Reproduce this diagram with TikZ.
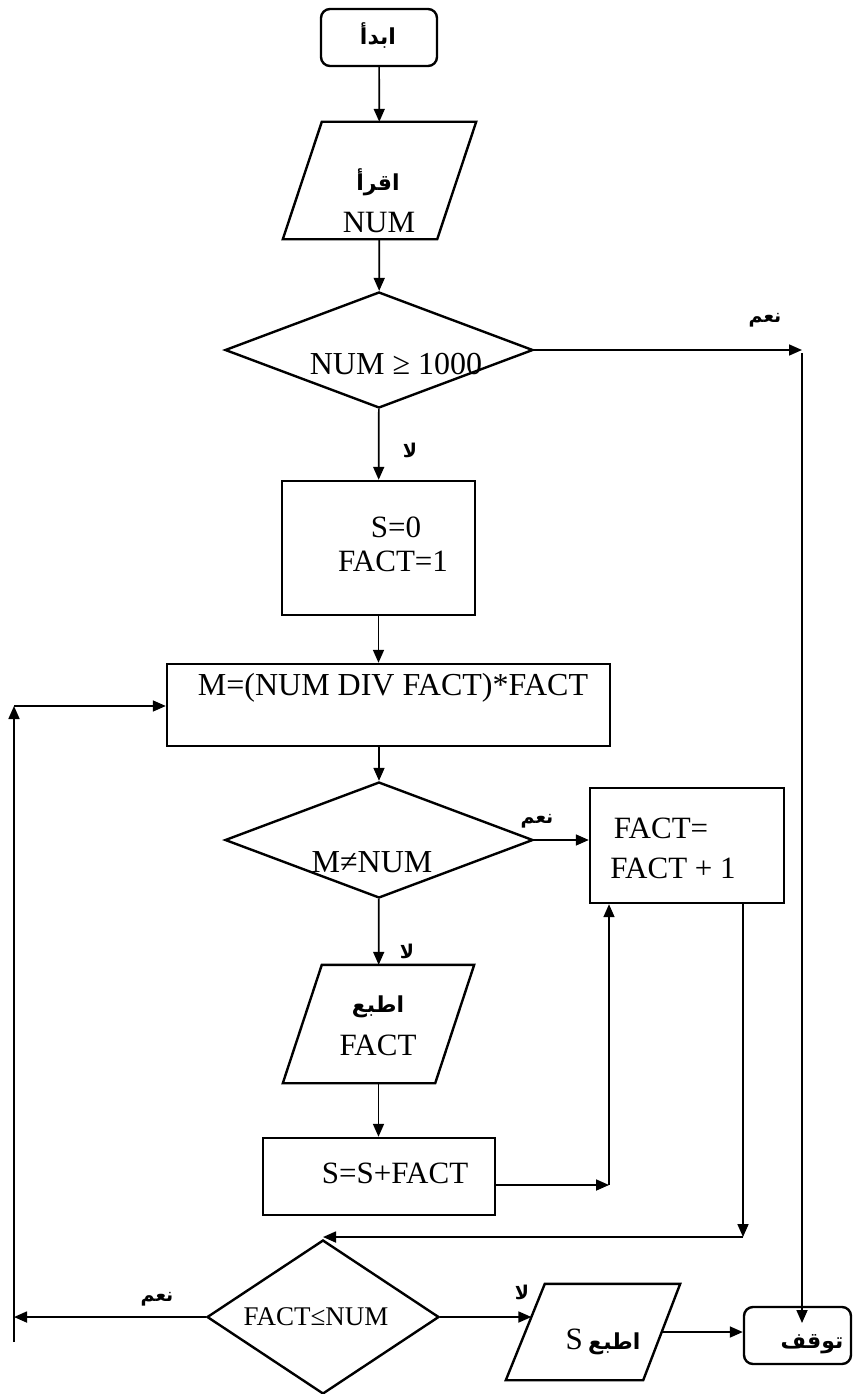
\documentclass[tikz,border=0pt]{standalone}
\usepackage{fontspec}
\setmainfont{Liberation Serif}
\newfontfamily\arabicfont[Script=Arabic]{DejaVu Sans}
\TeXXeTstate=1
\usetikzlibrary{arrows.meta,shapes.geometric,calc}

% Arabic words, set right to left
\newcommand{\artxt}[1]{{\arabicfont\bfseries\beginR #1\endR}}

\tikzset{
  shapeline/.style={line width=2.4pt, line join=miter},
  blk/.style={shapeline, draw, rectangle, inner sep=0pt},
  term/.style={blk, rounded corners=9pt},
  iobox/.style={rectangle, draw=none, inner sep=0pt},
  cond/.style={shapeline, draw, diamond, inner sep=0pt},
  conn/.style={line width=1.7pt, -{Triangle[length=13pt,width=11pt]}},
  lat/.style={inner sep=0pt, font=\fontsize{31}{35}\selectfont},
  latbig/.style={inner sep=0pt, font=\fontsize{32}{36}\selectfont},
  latsm/.style={inner sep=0pt, font=\fontsize{27}{31}\selectfont},
  arb/.style={inner sep=0pt, font=\fontsize{22}{26}\selectfont},
  arbsm/.style={inner sep=0pt, font=\fontsize{19}{22}\selectfont},
}

\begin{document}
\begin{tikzpicture}[x=1pt,y=-1pt]
\useasboundingbox (0,0) rectangle (855,1394);

% ---- start
\node[term, minimum width=116pt, minimum height=57pt] (start) at (379,37.5) {};
\node[arb] (startT) at (378,35) {\artxt{ابدأ}};

% ---- read NUM
\node[iobox, minimum width=193pt, minimum height=117pt] (rd) at (379.5,180.5) {};
\draw[shapeline] ([xshift=39pt]rd.north west) -- (rd.north east)
  -- ([xshift=-39pt]rd.south east) -- (rd.south west) -- cycle;
\node[arb] (rdA) at (378,182) {\artxt{اقرأ}};
\node[lat] (rdB) at (379,223) {NUM};

% ---- NUM >= 1000
\node[cond, minimum width=308pt, minimum height=116pt] (d1) at (379,350) {};
\node[latbig] (d1T) at (396,364) {NUM ≥ 1000};

% ---- initialisation
\node[blk, minimum width=193pt, minimum height=134pt] (init) at (378.5,548) {};
\node[lat] (initA) at (396,527) {S=0};
\node[lat] (initB) at (393,561) {FACT=1};

% ---- M computation
\node[blk, minimum width=443pt, minimum height=82pt] (mbox) at (388.5,705) {};
\node[latbig] (mT) at (393,688) {M=(NUM DIV FACT)*FACT};

% ---- M <> NUM
\node[cond, minimum width=308pt, minimum height=116pt] (d2) at (379,840) {};
\node[latbig] (d2T) at (372,862) {M≠NUM};

% ---- FACT increment
\node[blk, minimum width=194pt, minimum height=115pt] (fbox) at (687,845.5) {};
\node[lat] (fA) at (661,828) {FACT=};
\node[lat] (fB) at (673,868) {FACT + 1};

% ---- print FACT
\node[iobox, minimum width=191pt, minimum height=118pt] (pf) at (378.5,1024) {};
\draw[shapeline] ([xshift=39pt]pf.north west) -- (pf.north east)
  -- ([xshift=-39pt]pf.south east) -- (pf.south west) -- cycle;
\node[arb] (pfA) at (378,1007) {\artxt{اطبع}};
\node[lat] (pfB) at (378,1045) {FACT};

% ---- S accumulation
\node[blk, minimum width=232pt, minimum height=77pt] (sbox) at (379,1176.5) {};
\node[lat] (sT) at (395,1173) {S=S+FACT};

% ---- FACT <= NUM
\node[cond, minimum width=232pt, minimum height=154pt] (d3) at (323,1317) {};
\node[latsm] (d3T) at (316,1317) {FACT≤NUM};

% ---- print S
\node[iobox, minimum width=174pt, minimum height=96pt] (ps) at (593,1332) {};
\draw[shapeline] ([xshift=39pt]ps.north west) -- (ps.north east)
  -- ([xshift=-37pt]ps.south east) -- (ps.south west) -- cycle;
\node[arb] (psT) at (603,1342) {{\fontsize{31}{35}\selectfont S} \artxt{اطبع}};

% ---- stop
\node[term, minimum width=107pt, minimum height=57pt] (stop) at (797.5,1335.5) {};
\node[arb] (stopT) at (812,1344) {\artxt{توقف}};

% ---- branch labels
\node[arbsm] (yes1) at (765,320) {\artxt{نعم}};
\node[arbsm] (no1) at (410,450) {\artxt{لا}};
\node[arbsm] (yes2) at (537,821) {\artxt{نعم}};
\node[arbsm] (no2) at (407,951) {\artxt{لا}};
\node[arbsm] (yes3) at (157,1299) {\artxt{نعم}};
\node[arbsm] (no3) at (522,1292) {\artxt{لا}};

% ---- routing points
\coordinate (yr) at (802,350);
\coordinate (stopIn) at (802,1323);
\coordinate (lb) at (14,1342);
\coordinate (lt) at (14,706);
\coordinate (sr) at (609,1185);
\coordinate (fd) at (743,1237);
\coordinate (sIn) at ($(ps.south west)!0.656!([xshift=39pt]ps.north west)$);
\coordinate (sOut) at ($([xshift=-37pt]ps.south east)!0.5!(ps.north east)$);

% ---- main column
\draw[conn] (start) -- (rd);
\draw[conn] (rd) -- (d1);
\draw[conn] (d1) -- (init);
\draw[conn] (init) -- (init.south |- mbox.north);
\draw[conn] (mbox.south -| d2.north) -- (d2);
\draw[conn] (d2) -- (pf);
\draw[conn] (pf) -- (pf.south |- sbox.north);

% ---- NUM >= 1000 : yes
\draw[conn] (d1.east) -- (yr);
\draw[conn] ([yshift=-3pt]yr) -- (stopIn);

% ---- M <> NUM : yes
\draw[conn] (d2.east) -- (d2.east -| fbox.west);

% ---- back to the test
\draw[conn] (sbox.east |- sr) -- (sr);
\draw[conn] (sr) -- (sr |- fbox.south);
\draw[conn] (fd |- fbox.south) -- (fd);
\draw[conn] (fd) -- (fd -| d3.north);

% ---- FACT <= NUM : yes, loop
\draw[conn] (d3.west) -- (d3.west -| lb);
\draw[conn] (lb) -- (lt);
\draw[conn] (lt) -- (lt -| mbox.west);

% ---- FACT <= NUM : no
\draw[conn] (d3.east) -- (d3.east -| sIn);
\draw[conn] (sOut) -- (sOut -| stop.west);

\end{tikzpicture}
\end{document}
